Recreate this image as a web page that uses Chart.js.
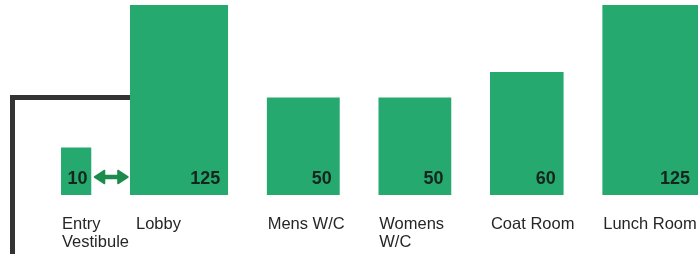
<!DOCTYPE html>
<html>
<head>
<meta charset="utf-8">
<script src="https://cdn.jsdelivr.net/npm/chart.js@4.4.0/dist/chart.umd.min.js"></script>
<style>
  html, body { margin: 0; padding: 0; background: #fff; }
  #wrap { width: 698px; height: 254px; }
</style>
</head>
<body>
<div id="wrap"><canvas id="myChart" width="698" height="254"></canvas></div>
<script>
// room schedule (areas shown as labels, frontage / depth in plan units)
const roomNames = [["Entry", "Vestibule"], ["Lobby"], ["Mens W/C"], ["Womens", "W/C"], ["Coat Room"], ["Lunch Room"]];
const roomAreas = [10, 125, 50, 50, 60, 125];
const roomWidths = [2.5, 8.05, 6, 6, 6.05, 8];
const roomDepths = [3.9, 15.6, 8, 8, 10.1, 15.6];

const green = '#25a96e';
const firstX = 5;
const gap = 3.15;

// left edge of every room along the x axis
let roomLefts = [];
let cursor = firstX;
for (let i = 0; i < roomWidths.length; i++) {
    roomLefts.push(cursor);
    cursor += roomWidths[i] + gap;
}

let datasets = [];
for (let i = 0; i < roomNames.length; i++) {
    let x0 = roomLefts[i];
    let x1 = x0 + roomWidths[i];
    datasets.push({
        label: roomNames[i].join(' '),
        data: [
            { x: x0, y: 0 },
            { x: x0, y: roomDepths[i] },
            { x: x1, y: roomDepths[i] },
            { x: x1, y: 0 }
        ],
        fill: 'origin',
        backgroundColor: green,
        borderColor: 'rgba(0,0,0,0)',
        borderWidth: 0,
        pointRadius: 0,
        tension: 0
    });
}

// wall, arrow, area numbers and room names
const planOverlay = {
    id: 'planOverlay',
    beforeDatasetsDraw(chart) {
        const ctx = chart.ctx;
        const x = chart.scales.x, y = chart.scales.y;
        const wallX = chart.chartArea.left + 12.5;
        const wallTop = y.getPixelForValue(roomDepths[2]);
        const lobbyLeft = x.getPixelForValue(roomLefts[1]);
        ctx.save();
        ctx.strokeStyle = '#333333';
        ctx.lineWidth = 5;
        ctx.lineCap = 'butt';
        ctx.lineJoin = 'miter';
        ctx.beginPath();
        ctx.moveTo(wallX, chart.height + 5);
        ctx.lineTo(wallX, wallTop);
        ctx.lineTo(lobbyLeft + 2, wallTop);
        ctx.stroke();
        ctx.restore();
    },
    afterDatasetsDraw(chart) {
        const ctx = chart.ctx;
        const x = chart.scales.x, y = chart.scales.y;
        const base = y.getPixelForValue(0);
        ctx.save();

        // double arrow between entry and lobby
        const ax1 = x.getPixelForValue(roomLefts[0] + roomWidths[0]) + 3;
        const ax2 = x.getPixelForValue(roomLefts[1]) - 2;
        const ay = base - 18;
        ctx.fillStyle = '#1b8c4b';
        ctx.strokeStyle = '#1b8c4b';
        ctx.lineWidth = 4.5;
        ctx.beginPath();
        ctx.moveTo(ax1 + 6, ay);
        ctx.lineTo(ax2 - 6, ay);
        ctx.stroke();
        ctx.lineJoin = 'round';
        ctx.lineWidth = 1.5;
        ctx.beginPath();
        ctx.moveTo(ax1, ay);
        ctx.lineTo(ax1 + 10, ay - 6.5);
        ctx.lineTo(ax1 + 10, ay + 6.5);
        ctx.closePath();
        ctx.fill();
        ctx.stroke();
        ctx.beginPath();
        ctx.moveTo(ax2, ay);
        ctx.lineTo(ax2 - 10, ay - 6.5);
        ctx.lineTo(ax2 - 10, ay + 6.5);
        ctx.closePath();
        ctx.fill();
        ctx.stroke();

        // area numbers
        ctx.font = 'bold 18px "Liberation Sans", Arial, sans-serif';
        ctx.fillStyle = '#14261d';
        ctx.textAlign = 'right';
        ctx.textBaseline = 'alphabetic';
        for (let i = 0; i < roomAreas.length; i++) {
            const right = x.getPixelForValue(roomLefts[i] + roomWidths[i]);
            const inset = i === 0 ? 4 : 8;
            ctx.fillText(String(roomAreas[i]), Math.min(right, chart.width) - inset, base - 11);
        }

        // room names under the plan
        ctx.font = '16.5px "Liberation Sans", Arial, sans-serif';
        ctx.fillStyle = '#262626';
        ctx.textAlign = 'left';
        for (let i = 0; i < roomNames.length; i++) {
            const left = x.getPixelForValue(roomLefts[i]) + (i === 1 ? 6 : 1);
            for (let k = 0; k < roomNames[i].length; k++) {
                ctx.fillText(roomNames[i][k], left, base + 34 + k * 18);
            }
        }
        ctx.restore();
    }
};

let ctx = document.getElementById('myChart').getContext('2d');
let myChart = new Chart(ctx, {
    type: 'line',
    data: { datasets: datasets },
    options: {
        responsive: false,
        animation: false,
        devicePixelRatio: 1,
        layout: { padding: { top: 0, left: 0, right: 0, bottom: 59 } },
        plugins: {
            legend: { display: false },
            tooltip: { enabled: false }
        },
        scales: {
            x: { type: 'linear', min: 0, max: 57.2, display: false },
            y: { type: 'linear', min: 0, max: 16, display: false }
        }
    },
    plugins: [planOverlay]
});
</script>
</body>
</html>
